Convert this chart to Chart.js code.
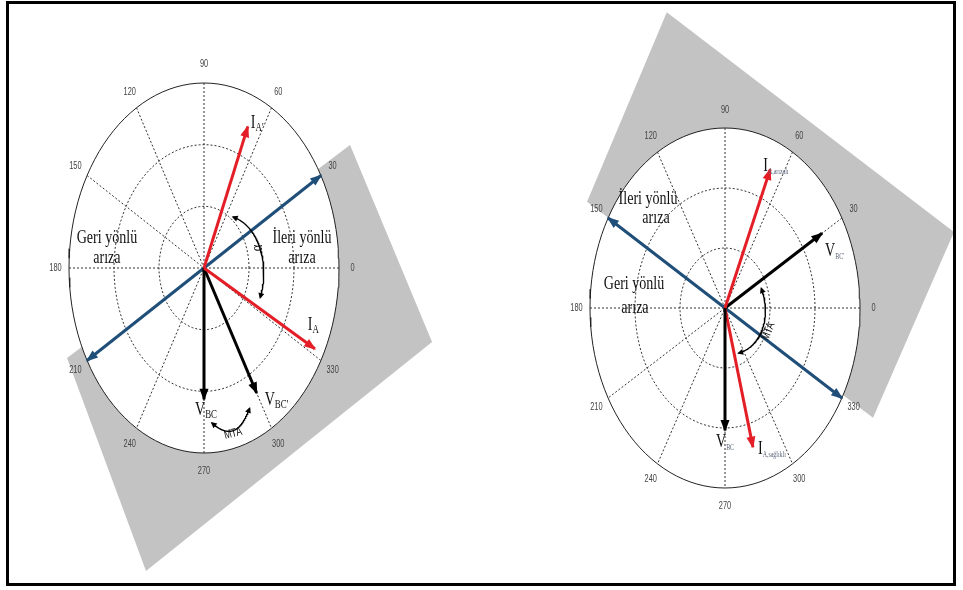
<!DOCTYPE html>
<html lang="tr">
<head>
<meta charset="UTF-8">
<title>Yön tespiti fazör diyagramları</title>
<script src="https://cdn.jsdelivr.net/npm/chart.js"></script>
<style>
  html, body { margin: 0; padding: 0; background: #fff; }
  #wrap { position: relative; width: 963px; height: 590px; overflow: hidden; }
  #left { position: absolute; left: 0; top: 0; }
  #right { position: absolute; left: 481px; top: 0; }
  #frame { position: absolute; left: 6px; top: 1px; width: 950px; height: 585px;
           box-sizing: border-box; border: 3px solid #000; pointer-events: none; }
</style>
</head>
<body>
<div id="wrap">
  <canvas id="left" width="481" height="590"></canvas>
  <canvas id="right" width="482" height="590"></canvas>
  <div id="frame"></div>
</div>
<script>
// --- veri ---
const tickAngles = [0, 30, 60, 90, 120, 150, 180, 210, 240, 270, 300, 330];
const tickLabels = ['0', '30', '60', '90', '120', '150', '180', '210', '240', '270', '300', '330'];
const ringRadii = [1 / 3, 2 / 3, 1];

// sol diyagram
const leftNames = ['I', 'I', 'V', 'V'];
const leftSubs = ["A'", 'A', 'BC', "BC'"];
const leftAngles = [67, 332, 270, 300];
const leftMags = [0.83, 0.93, 0.71, 0.78];
const leftBoundary = 30;
const leftZoneAngles = [205.6, 31.6, -13.3, 255.3];
const leftZoneRadii = [1.125, 1.27, 1.736, 1.693];

// sağ diyagram
const rightNames = ['I', 'V', 'V', 'I'];
const rightSubs = ['A,arızalı', "BC'", 'BC', 'A,sağlıklı'];
const rightAngles = [66.5, 30, 270, 285];
const rightMags = [0.84, 0.83, 0.68, 0.80];
const rightBoundary = 150;
const rightZoneAngles = [150, 104.7, 14.0, -29.1];
const rightZoneRadii = [1.18, 1.699, 1.748, 1.255];

// --- stil ---
const RED = '#e41e26', BLACK = '#000', BLUE = '#1f4e79', GREY = '#c3c3c3';
const SQUEEZE = 0.74;
const SERIF = '"Liberation Serif", "Times New Roman", serif';
const SANS = '"Liberation Sans", Arial, sans-serif';

const rad = d => d * Math.PI / 180;
const polar = (a, r) => ({ x: r * Math.cos(rad(a)), y: r * Math.sin(rad(a)) });

function arc(r0, a0 = 0, a1 = 360, r1 = r0, bulge = 0) {
  const pts = [];
  const n = 120;
  for (let i = 0; i <= n; i++) {
    const t = i / n;
    pts.push(polar(a0 + (a1 - a0) * t, r0 + (r1 - r0) * t + bulge * Math.sin(Math.PI * t)));
  }
  return pts;
}

function buildDatasets(d) {
  const ds = [];
  const zone = d.zoneAngles.map((a, i) => polar(a, d.zoneRadii[i]));
  zone.push(zone[0]);
  ds.push({ data: zone, showLine: true, fill: 'shape', backgroundColor: GREY, borderWidth: 0, order: 100 });
  ds.push({ data: arc(1), showLine: true, fill: 'shape', backgroundColor: '#fff', borderColor: '#222', borderWidth: 1, order: 90 });
  ringRadii.slice(0, -1).forEach(r =>
    ds.push({ data: arc(r), showLine: true, borderColor: '#333', borderWidth: 1, borderDash: [2, 2], order: 80 }));
  tickAngles.filter(a => a < 180).forEach(a =>
    ds.push({ data: [polar(a, 1), polar(a + 180, 1)], showLine: true, borderColor: '#333', borderWidth: 1, borderDash: [2, 2], order: 80 }));
  ds.push({ data: [polar(d.boundary + 180, 1), polar(d.boundary, 1)], showLine: true, borderColor: BLUE, borderWidth: 3,
            arrowStart: true, arrowEnd: true, order: 20 });
  d.angles.forEach((a, i) =>
    ds.push({ data: [{ x: 0, y: 0 }, polar(a, d.mags[i])], showLine: true, borderColor: d.colors[i], borderWidth: 3,
              arrowEnd: true, order: 10 }));
  d.arcs.forEach(c =>
    ds.push({ data: arc(c.r0, c.a0, c.a1, c.r1, c.bulge), showLine: true, borderColor: '#000', borderWidth: 1.3,
              arrowStart: true, arrowEnd: true, arrowLen: 6, arrowWidth: 3, order: 5 }));
  return ds;
}

const arrowPlugin = {
  id: 'arrows',
  afterDatasetsDraw(chart) {
    const ctx = chart.ctx;
    chart.data.datasets.forEach((ds, i) => {
      if (!ds.arrowStart && !ds.arrowEnd) return;
      const pts = chart.getDatasetMeta(i).data;
      const L = ds.arrowLen || 12, W = ds.arrowWidth || 4.5;
      const k = Math.min(3, pts.length - 1);
      const head = (tip, from) => {
        const dx = tip.x - from.x, dy = tip.y - from.y;
        const len = Math.hypot(dx, dy) || 1;
        const ux = dx / len, uy = dy / len;
        const tx = tip.x + ux * 1.5, ty = tip.y + uy * 1.5;
        ctx.beginPath();
        ctx.moveTo(tx, ty);
        ctx.lineTo(tx - ux * L - uy * W, ty - uy * L + ux * W);
        ctx.lineTo(tx - ux * L + uy * W, ty - uy * L - ux * W);
        ctx.closePath();
        ctx.fill();
      };
      ctx.save();
      ctx.fillStyle = ds.borderColor;
      if (ds.arrowEnd) head(pts[pts.length - 1], pts[pts.length - 1 - k]);
      if (ds.arrowStart) head(pts[0], pts[k]);
      ctx.restore();
    });
  }
};

function drawText(ctx, txt, x, y, font, color, align, baseline, rot) {
  ctx.save();
  ctx.translate(x, y);
  if (rot) ctx.rotate(rot);
  ctx.scale(SQUEEZE, 1);
  ctx.font = font;
  ctx.fillStyle = color;
  ctx.textAlign = align || 'left';
  ctx.textBaseline = baseline || 'alphabetic';
  ctx.fillText(txt, 0, 0);
  const w = ctx.measureText(txt).width * SQUEEZE;
  ctx.restore();
  return w;
}

function textPlugin(d) {
  return {
    id: 'texts',
    afterDraw(chart) {
      const ctx = chart.ctx;
      const px = p => ({ x: chart.scales.x.getPixelForValue(p.x), y: chart.scales.y.getPixelForValue(p.y) });
      tickAngles.forEach((a, i) => {
        const p = px(polar(a, 1.1));
        drawText(ctx, tickLabels[i], p.x, p.y, '10px ' + SANS, '#444', 'center', 'middle');
      });
      d.notes.forEach(n => {
        const p = px(n);
        drawText(ctx, n.text, p.x, p.y, n.font, '#111', 'center', n.baseline || 'alphabetic', n.rot || 0);
      });
      d.angles.forEach((a, i) => {
        const tip = px(polar(a, d.mags[i]));
        const x = tip.x + d.labelOffsets[i][0], y = tip.y + d.labelOffsets[i][1];
        const w = drawText(ctx, d.names[i], x, y, '19px ' + SERIF, '#111');
        drawText(ctx, d.subs[i], x + w, y + 3, d.subFont + 'px ' + SERIF, d.subColor);
      });
    }
  };
}

const left = {
  canvas: 'left', width: 481, cx: 204, cy: 268, sx: 135, sy: 185,
  names: leftNames, subs: leftSubs, angles: leftAngles, mags: leftMags,
  boundary: leftBoundary, zoneAngles: leftZoneAngles, zoneRadii: leftZoneRadii,
  colors: [RED, RED, BLACK, BLACK],
  labelOffsets: [[3, 1], [-7, -19], [-9, 16], [8, 12]],
  subFont: 12, subColor: '#111',
  arcs: [
    { a0: 52, a1: -21, r0: 0.35, r1: 0.446, bulge: 0.03 },
    { a0: 274, a1: 294, r0: 0.84, r1: 0.83, bulge: 0.07 }
  ],
  notes: [
    { text: 'Geri yönlü', x: -0.719, y: 0.135, font: '19px ' + SERIF },
    { text: 'arıza', x: -0.719, y: 0.027, font: '19px ' + SERIF },
    { text: 'İleri yönlü', x: 0.726, y: 0.135, font: '19px ' + SERIF },
    { text: 'arıza', x: 0.726, y: 0.027, font: '19px ' + SERIF },
    { text: 'α', x: 0.40, y: 0.108, font: '17px ' + SERIF, baseline: 'middle', rot: -Math.PI / 2 },
    { text: 'MTA', x: 0.215, y: -0.895, font: '12px ' + SANS, baseline: 'middle', rot: rad(-15) }
  ]
};

const right = {
  canvas: 'right', width: 482, cx: 244, cy: 308, sx: 135, sy: 180,
  names: rightNames, subs: rightSubs, angles: rightAngles, mags: rightMags,
  boundary: rightBoundary, zoneAngles: rightZoneAngles, zoneRadii: rightZoneRadii,
  colors: [RED, BLACK, BLACK, RED],
  labelOffsets: [[-7, 2], [3, 23], [-9, 17], [5, 7]],
  subFont: 8, subColor: '#5a6478',
  arcs: [
    { a0: 22, a1: -68, r0: 0.29, r1: 0.27, bulge: 0.02 }
  ],
  notes: [
    { text: 'İleri yönlü', x: -0.570, y: 0.578, font: '19px ' + SERIF },
    { text: 'arıza', x: -0.511, y: 0.472, font: '19px ' + SERIF },
    { text: 'Geri yönlü', x: -0.674, y: 0.106, font: '19px ' + SERIF },
    { text: 'arıza', x: -0.667, y: -0.028, font: '19px ' + SERIF },
    { text: 'MTA', x: 0.32, y: -0.13, font: '12px ' + SANS, baseline: 'middle', rot: rad(-68) }
  ]
};

function makeChart(d) {
  const h = 590;
  new Chart(document.getElementById(d.canvas), {
    type: 'scatter',
    data: { datasets: buildDatasets(d) },
    options: {
      responsive: false,
      animation: false,
      events: [],
      layout: { padding: 0 },
      elements: { point: { radius: 0, hoverRadius: 0 }, line: { tension: 0, borderCapStyle: 'butt' } },
      plugins: { legend: { display: false }, tooltip: { enabled: false } },
      scales: {
        x: { type: 'linear', display: false, min: -d.cx / d.sx, max: (d.width - d.cx) / d.sx },
        y: { type: 'linear', display: false, min: -(h - d.cy) / d.sy, max: d.cy / d.sy }
      }
    },
    plugins: [arrowPlugin, textPlugin(d)]
  });
}

makeChart(left);
makeChart(right);
</script>
</body>
</html>
